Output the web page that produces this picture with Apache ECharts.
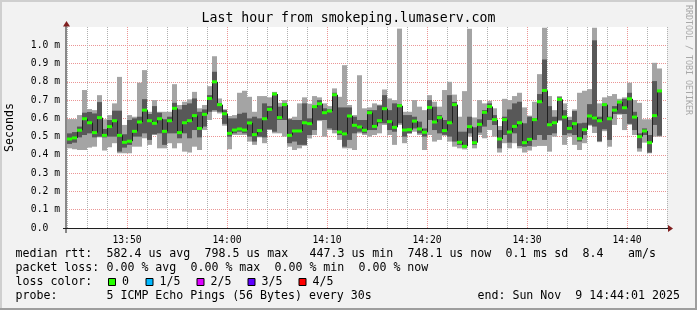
<!DOCTYPE html>
<html><head><meta charset="utf-8">
<script src="https://cdn.jsdelivr.net/npm/echarts@6/dist/echarts.min.js"></script>
<style>html,body{margin:0;padding:0;background:#f2f2f2}#c{width:697px;height:310px}</style>
</head><body><div id="c"></div>
<script>
// ---- data (values in ms) ----
const startMinute = 44;      // 13:44 (minutes after 13:00)
const endMinute = 104;       // 14:44
const stepMinutes = 0.5;     // 30 s steps
const pingMin = [.436,.431,.427,.427,.440,.445,.496,.424,.442,.464,.409,.409,.409,.445,.445,.491,.455,.509,.436,.436,
.464,.436,.464,.418,.413,.445,.427,.536,.591,.636,.627,.560,.431,.509,.509,.509,.473,.455,.496,.464,
.536,.518,.518,.500,.445,.427,.436,.450,.490,.509,.585,.500,.536,.518,.482,.436,.436,.427,.518,.509,
.500,.509,.518,.564,.509,.455,.564,.464,.515,.527,.509,.427,.509,.473,.482,.505,.473,.445,.436,.430,
.500,.436,.509,.491,.536,.500,.413,.464,.436,.464,.436,.413,.424,.445,.449,.449,.418,.500,.585,.455,
.500,.455,.427,.464,.560,.520,.470,.530,.445,.564,.620,.536,.565,.509,.418,.467,.409,.500,.500,null];
const ping2 = [.460,.467,.496,.509,.518,.496,.500,.496,.500,.500,.418,.440,.455,.500,.500,.518,.482,.513,.518,.455,
.518,.518,.491,.518,.491,.536,.496,.555,.636,.645,.636,.570,.500,.518,.527,.518,.500,.473,.500,.496,
.540,.527,.591,.591,.464,.473,.455,.455,.509,.536,.591,.591,.545,.536,.509,.445,.482,.518,.527,.518,
.536,.536,.573,.573,.536,.527,.573,.500,.520,.545,.518,.500,.591,.536,.518,.510,.500,.473,.455,.440,
.518,.455,.522,.555,.591,.564,.436,.509,.467,.518,.449,.445,.449,.482,.509,.482,.509,.518,.591,.509,
.518,.509,.473,.509,.565,.555,.475,.540,.482,.624,.625,.624,.570,.536,.436,.509,.413,.564,.505,null];
const median = [.487,.493,.535,.598,.576,.522,.604,.507,.555,.587,.507,.469,.475,.529,.580,.645,.587,.573,.598,.529,
.587,.655,.522,.576,.587,.615,.545,.622,.709,.800,.675,.625,.518,.536,.542,.536,.575,.511,.533,.598,
.649,.733,.604,.675,.507,.531,.531,.576,.571,.664,.680,.631,.640,.729,.525,.515,.613,.562,.553,.535,
.631,.556,.587,.653,.582,.551,.669,.536,.538,.585,.542,.524,.660,.580,.604,.533,.576,.675,.469,.447,
.555,.467,.567,.633,.665,.593,.487,.593,.525,.556,.576,.467,.485,.593,.691,.753,.565,.576,.704,.607,
.545,.571,.489,.538,.613,.602,.587,.675,.598,.645,.689,.658,.707,.607,.500,.531,.467,.615,.750,null];
const ping4 = [.518,.525,.555,.631,.635,.627,.689,.542,.591,.642,.642,.513,.591,.600,.609,.705,.624,.667,.631,.595,
.609,.685,.649,.673,.682,.709,.636,.649,.727,.855,.682,.645,.600,.600,.625,.631,.600,.609,.600,.682,
.667,.740,.664,.682,.595,.591,.591,.682,.600,.667,.700,.655,.649,.740,.660,.660,.660,.609,.591,.591,
.645,.645,.670,.727,.645,.682,.678,.618,.618,.609,.582,.545,.700,.664,.618,.591,.727,.690,.527,.527,
.609,.551,.595,.645,.682,.618,.536,.609,.649,.682,.691,.573,.609,.600,.733,.922,.667,.609,.715,.645,
.591,.640,.573,.576,.678,1.027,.609,.680,.609,.667,.691,.707,.740,.636,.518,.545,.509,.804,.755,null];
const pingMax = [.596,.596,.618,.755,.651,.645,.727,.595,.618,.682,.827,.564,.618,.609,.795,.864,.636,.700,.636,.636,
.636,.787,.673,.691,.704,.745,.655,.673,.776,.940,.709,.650,.613,.618,.740,.751,.718,.636,.722,.722,
.715,.745,.685,.700,.600,.609,.682,.715,.680,.722,.715,.682,.667,.764,.718,.891,.673,.618,.836,.655,
.660,.682,.675,.758,.709,.700,1.091,.636,.636,.700,.664,.645,.727,.691,.664,.755,.800,.730,.609,.749,
1.090,.605,.700,.682,.696,.655,.558,.707,.700,.722,.740,.660,.615,.691,.842,1.096,.722,.645,.722,.682,
.609,.649,.740,.751,.760,1.096,.682,.715,.722,.733,.707,.715,.795,.700,.685,.595,.595,.904,.873,null];
const yTicks = [0,0.1,0.2,0.3,0.4,0.5,0.6,0.7,0.8,0.9,1.0];
const xLabelMinutes = [50,60,70,80,90,100];
const titleText = 'Last hour from smokeping.lumaserv.com';
const statLines = [
  [[0,'median rtt:'],[13,'582.4 us avg'],[27,'798.5 us max'],[42,'447.3 us min'],[56,'748.1 us now'],[70,'0.1 ms sd'],[81,'8.4'],[87.5,'am/s']],
  [[0,'packet loss:'],[13,'0.00 % avg'],[25,'0.00 % max'],[37,'0.00 % min'],[49,'0.00 % now']],
  [[0,'loss color:']],
  [[0,'probe:'],[13,'5 ICMP Echo Pings (56 Bytes) every 30s'],[66,'end: Sun Nov  9 14:44:01 2025']]
];
const lossLabels = ['0','1/5','2/5','3/5','4/5'];
const lossColors = ['#26ff00','#00b8ff','#dd00ff','#5e00ff','#ff0000'];

// ---- build ----
const MONO = '"DejaVu Sans Mono", monospace';
const rows = median.map((m, i) => [startMinute + i * stepMinutes, pingMin[i], ping2[i], m, ping4[i], pingMax[i], i > 0 ? median[i-1] : null]);

const chart = echarts.init(document.getElementById('c'), null, {renderer: 'canvas'});

function txt(x, y, s, size, extra) {
  return Object.assign({
    type: 'text', x: x, y: y, z: 100,
    style: Object.assign({text: s, fontFamily: MONO, fontSize: size, fill: '#000',
      textAlign: 'left', textVerticalAlign: 'middle', align: 'left', verticalAlign: 'middle'}, (extra && extra.style) || {})
  }, extra ? {rotation: extra.rotation || 0} : {});
}

const graphics = [];
// frame shading
graphics.push({type:'rect', shape:{x:0,y:0,width:697,height:2}, style:{fill:'#cfcfcf'}, z:100});
graphics.push({type:'rect', shape:{x:0,y:0,width:2,height:310}, style:{fill:'#cfcfcf'}, z:100});
graphics.push({type:'rect', shape:{x:0,y:308,width:697,height:2}, style:{fill:'#9e9e9e'}, z:100});
graphics.push({type:'rect', shape:{x:695,y:0,width:2,height:310}, style:{fill:'#9e9e9e'}, z:100});
// axes
graphics.push({type:'line', shape:{x1:63,y1:228.5,x2:668,y2:228.5}, style:{stroke:'#1f1f1f',lineWidth:1}, z:100});
graphics.push({type:'polygon', shape:{points:[[668,225],[673,228.5],[668,232]]}, style:{fill:'#801f1f'}, z:100});
graphics.push({type:'line', shape:{x1:66,y1:233,x2:66,y2:25}, style:{stroke:'#1f1f1f',lineWidth:1}, z:100});
graphics.push({type:'polygon', shape:{points:[[63,26.5],[66.5,21],[70,26.5]]}, style:{fill:'#801f1f'}, z:100});
// title
graphics.push(txt(348.5, 19, titleText, 13.2, {style:{textAlign:'center', align:'center'}}));
// y name
graphics.push(txt(10, 127.5, 'Seconds', 11.6, {rotation: Math.PI/2, style:{textAlign:'center', align:'center'}}));
// watermark
graphics.push(txt(688, 60, 'RRDTOOL / TOBI OETIKER', 8.3, {rotation: -Math.PI/2, style:{textAlign:'center', align:'center', fill:'#a8a8a8'}}));
// stats
const lineY = [254.3, 268.3, 282.3, 296.3];
statLines.forEach((line, li) => {
  line.forEach(([col, s]) => graphics.push(txt(15.5 + 7 * col, lineY[li], s, 11.6)));
});
const boxX = [108, 145.5, 196.5, 247.5, 298.5];
lossLabels.forEach((lab, i) => {
  graphics.push({type:'rect', shape:{x:boxX[i]+0.5, y:278.5, width:7, height:7}, style:{fill:lossColors[i], stroke:'#000', lineWidth:1}, z:100});
  graphics.push(txt(boxX[i] + 14, lineY[2], lab, 11.6));
});

const option = {
  animation: false,
  backgroundColor: '#f2f2f2',
  grid: {left: 67, right: 30, top: 27, bottom: 82, show: true, backgroundColor: '#ffffff', borderWidth: 0},
  xAxis: {
    type: 'value', min: startMinute, max: endMinute, interval: 2,
    axisLine: {show: false}, axisTick: {show: false},
    axisLabel: {
      margin: 7, fontFamily: MONO, fontSize: 9.7, color: '#000',
      showMinLabel: true, showMaxLabel: true,
      formatter: v => {
        if (xLabelMinutes.indexOf(v) < 0) return '';
        const h = 13 + Math.floor(v / 60), m = v % 60;
        return h + ':' + (m < 10 ? '0' + m : m);
      }
    },
    splitLine: {show: true, showMinLine: true, showMaxLine: true,
      lineStyle: {color: ['#b0b0b0','#b0b0b0','#b0b0b0','#eb9595','#b0b0b0'], type: [1,1], width: 1}}
  },
  yAxis: {
    type: 'value', min: 0, max: 1.1, interval: 0.1,
    axisLine: {show: false}, axisTick: {show: false},
    axisLabel: {
      margin: 7, fontFamily: MONO, fontSize: 9.7, color: '#000',
      formatter: v => {
        const r = Math.round(v * 10) / 10;
        if (yTicks.indexOf(r) < 0) return '';
        return r === 0 ? '0.0  ' : r.toFixed(1) + ' m';
      }
    },
    splitLine: {show: true, showMaxLine: false, lineStyle: {color: '#eb9595', type: [1,1], width: 1}}
  },
  graphic: graphics,
  series: [{
    type: 'custom',
    clip: true,
    data: rows,
    encode: {x: 0, y: [1,2,3,4,5]},
    renderItem: function (params, api) {
      const t = api.value(0);
      const med = api.value(3);
      if (isNaN(med)) return null;
      const x = api.coord([t, 0])[0];
      const w = api.coord([t + stepMinutes, 0])[0] - x;
      const Y = v => api.coord([t, v])[1];
      const yMin = Y(api.value(1)), y2 = Y(api.value(2)), yMed = Y(med), y4 = Y(api.value(4)), yMax = Y(api.value(5));
      const children = [
        {type: 'rect', shape: {x: x, y: yMax, width: w, height: yMin - yMax}, style: {fill: '#a4a4a4'}},
        {type: 'rect', shape: {x: x, y: y4, width: w, height: y2 - y4}, style: {fill: '#585858'}}
      ];
      const prev = api.value(6);
      if (!isNaN(prev)) {
        children.push({type: 'line', shape: {x1: x + 0.5, y1: Y(prev), x2: x + 0.5, y2: yMed}, style: {stroke: '#202020', lineWidth: 1}});
      }
      children.push({type: 'rect', shape: {x: x, y: yMed - 1.5, width: w, height: 3}, style: {fill: '#26ff00'}});
      return {type: 'group', children: children};
    }
  }]
};
chart.setOption(option);
</script>
</body></html>
